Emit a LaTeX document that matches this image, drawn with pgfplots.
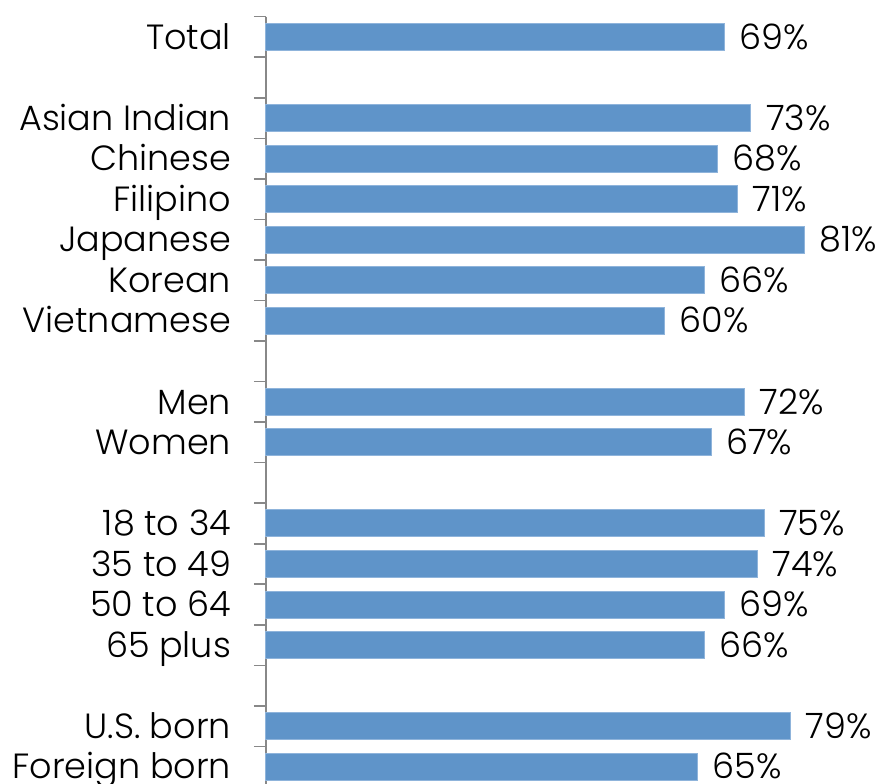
\documentclass[border=0pt]{standalone}
\usepackage{fontspec}
\setmainfont{Poppins}[UprightFont=* Light]
\usepackage{pgfplots}
\pgfplotsset{compat=1.18}
\usetikzlibrary{calc}
\definecolor{barblue}{HTML}{5F94C9}
\definecolor{baredge}{HTML}{8FB4DB}
\definecolor{axisgray}{HTML}{888888}
\begin{document}
\begin{tikzpicture}
\begin{axis}[
  name=ax,
  xbar,
  scale only axis,
  width=312.5pt, height=385.15pt,
  xmin=0, xmax=94.1,
  ymin=-0.5, ymax=18.5,
  y dir=reverse,
  hide x axis,
  axis y line*=left,
  y axis line style={draw=axisgray, line width=1pt, -},
  ytick={0,...,18},
  yticklabels={Total,,Asian Indian,Chinese,Filipino,Japanese,Korean,Vietnamese,,Men,Women,,18 to 34,35 to 49,50 to 64,65 plus,,U.S. born,Foreign born},
  major tick length=0pt,
  minor ytick={-0.5,0.5,...,18.5},
  minor tick length=6pt,
  tick align=outside,
  tick style={draw=axisgray, line width=0.8pt},
  yticklabel style={font=\fontsize{17.5}{21}\selectfont, anchor=east, xshift=-14pt,
    text height=0.72em, text depth=0.2em, yshift=-3.5pt},
  /pgf/number format/assume math mode=true,
  bar width=13.5pt,
  bar shift=0pt,
  nodes near coords={\pgfmathprintnumber{\pgfplotspointmeta}\%},
  nodes near coords style={font=\fontsize{17.5}{21}\selectfont, anchor=west, xshift=4pt,
    text height=0.72em, text depth=0.2em, yshift=-3.5pt},
  clip=false,
]
\addplot[fill=barblue, draw=baredge, line width=0.5pt] coordinates {
  (69,0) (73,2) (68,3) (71,4) (81,5) (66,6) (60,7)
  (72,9) (67,10)
  (75,12) (74,13) (69,14) (66,15)
  (79,17) (65,18)
};
\end{axis}
\pgfresetboundingbox
\path[use as bounding box] ($(ax.south west)+(-133pt,1.5pt)$) rectangle ($(ax.north east)+(0pt,8.35pt)$);
\end{tikzpicture}
\end{document}
